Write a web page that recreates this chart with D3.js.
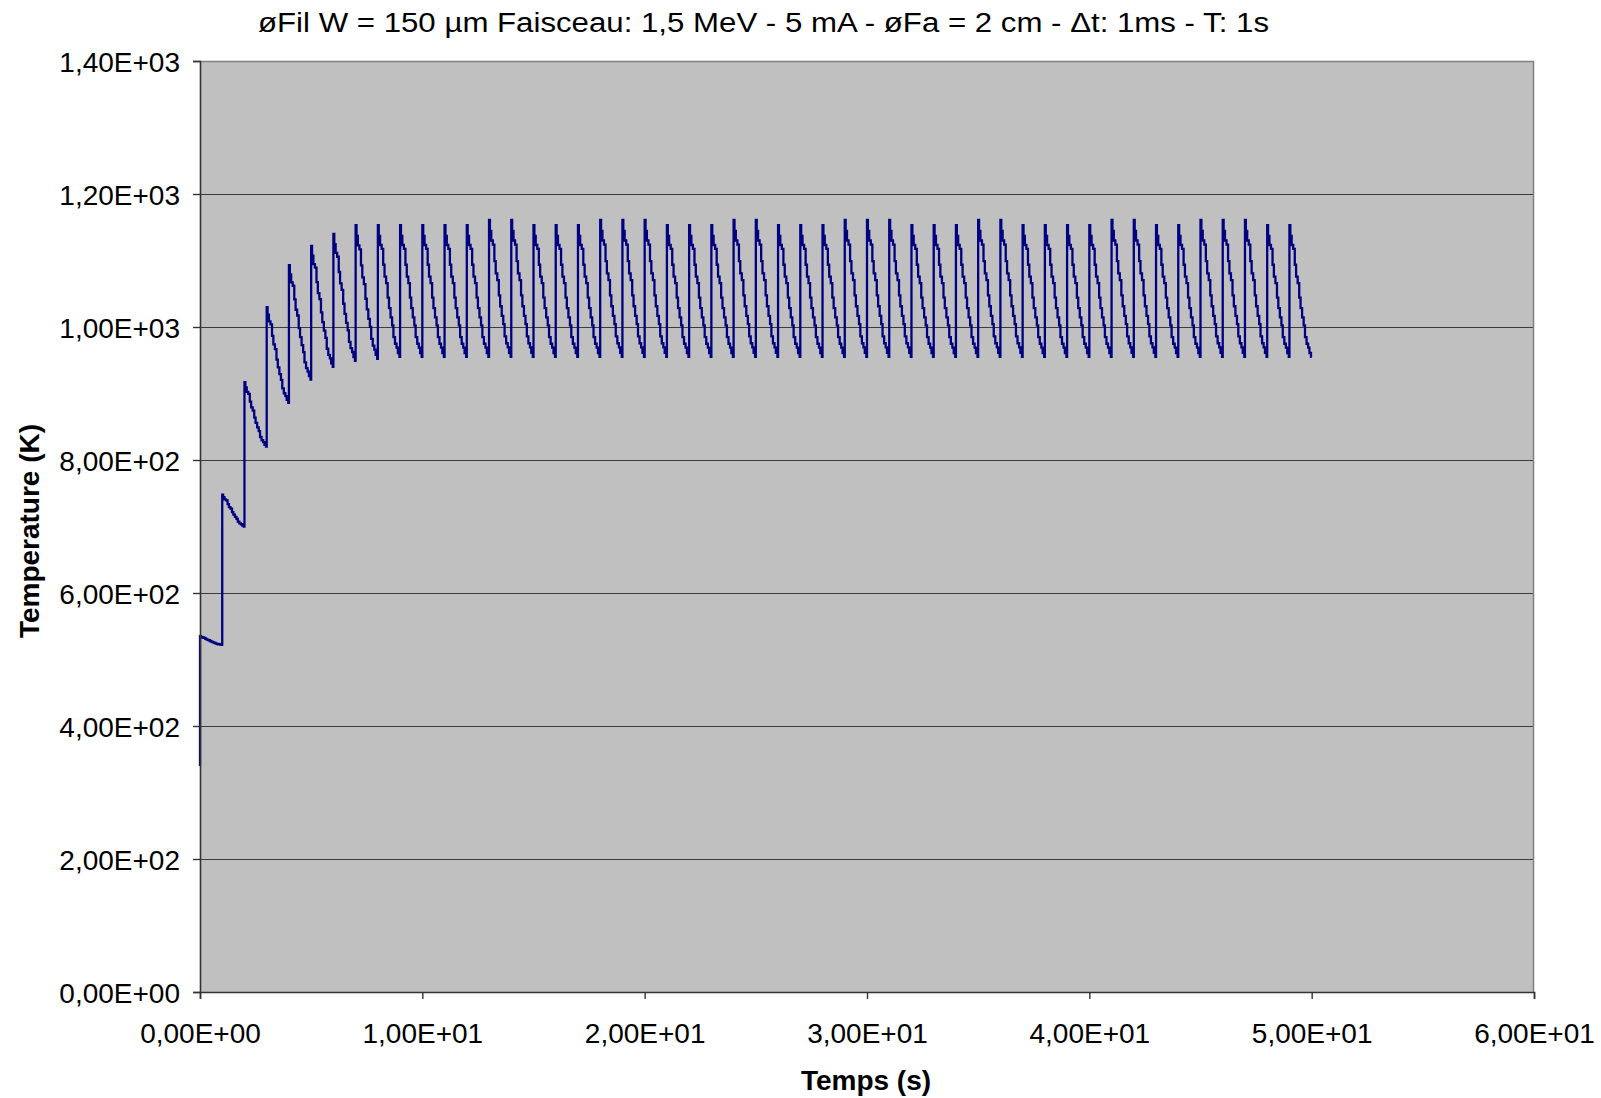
<!DOCTYPE html>
<html>
<head>
<meta charset="utf-8">
<script src="https://cdn.jsdelivr.net/npm/d3@7"></script>
<style>
  html, body { margin: 0; padding: 0; background: #fff; }
  svg { display: block; }
  text { font-family: "Liberation Sans", Arial, sans-serif; fill: #000; }
</style>
</head>
<body>
<svg id="chart" width="1601" height="1098"></svg>
<script>
// ---- Data ----
const titleText = "øFil W = 150 µm Faisceau: 1,5 MeV - 5 mA - øFa = 2 cm - Δt: 1ms - T: 1s";
const xTitle = "Temps (s)";
const yTitle = "Temperature (K)";
const xTicks = [0, 10, 20, 30, 40, 50, 60];
const yTicks = [0, 200, 400, 600, 800, 1000, 1200, 1400];

// initial temperature at t = 0 (before first pulse)
const startTemp = 340;
// pulse times (s), one pulse per second
const pulseTimes = d3.range(0, 50);
// peak temperature right after each pulse (K)
const peaks = [535, 748, 917, 1030, 1093, 1122, 1140, 1153, 1153, 1153,
               1153, 1153, 1153, 1161, 1161, 1153, 1153, 1153, 1161, 1161,
               1161, 1153, 1153, 1153, 1161, 1161, 1153, 1153, 1153, 1161,
               1161, 1161, 1153, 1153, 1153, 1161, 1161, 1153, 1153, 1153,
               1153, 1161, 1161, 1153, 1153, 1161, 1161, 1161, 1153, 1153];
// temperature at the end of each cycle, just before the next pulse (K)
const troughs = [522, 700, 820, 886, 921, 940, 949, 952, 955, 955,
                 955, 955, 955, 955, 955, 955, 955, 955, 955, 955,
                 955, 955, 955, 955, 955, 955, 955, 955, 955, 955,
                 955, 955, 955, 955, 955, 955, 955, 955, 955, 955,
                 955, 955, 955, 955, 955, 955, 955, 955, 955, 955];
// stepped cooling profile inside one cycle, read from a magnified cycle:
// time offset within the cycle (s) and fraction of the peak-to-trough drop
const stepOffsets   = [0, 0.04, 0.10, 0.17, 0.24, 0.30, 0.37, 0.44, 0.50, 0.57, 0.64, 0.70, 0.77, 0.84, 0.90, 0.97];
const stepFractions = [0, 0.08, 0.15, 0.18, 0.30, 0.39, 0.44, 0.55, 0.63, 0.70, 0.76, 0.85, 0.90, 0.93, 0.97, 1.00];
const endTime = 50;

// ---- Layout ----
const svg = d3.select("#chart");
const mLeft = 200, mRight = 1534, mTop = 61, mBottom = 992;
const x = d3.scaleLinear().domain([0, 60]).range([mLeft, mRight]);
const y = d3.scaleLinear().domain([0, 1400]).range([mBottom, mTop]);

const fmt = v => {
  const [m, e] = v.toExponential(2).split("e");
  const sign = e[0] === "-" ? "-" : "+";
  const digits = e.replace(/[+-]/, "").padStart(2, "0");
  return m.replace(".", ",") + "E" + sign + digits;
};

// plot background
svg.append("rect")
  .attr("x", mLeft).attr("y", mTop)
  .attr("width", mRight - mLeft).attr("height", mBottom - mTop)
  .attr("fill", "#C0C0C0");

// gridlines
svg.append("g")
  .selectAll("line")
  .data(yTicks.filter(d => d > 0 && d < 1400))
  .join("line")
  .attr("x1", mLeft).attr("x2", mRight)
  .attr("y1", d => Math.round(y(d)) + 0.5).attr("y2", d => Math.round(y(d)) + 0.5)
  .attr("stroke", "#3c3c3c").attr("stroke-width", 1.2);

// plot border (top / right)
svg.append("path")
  .attr("d", `M${mLeft},${mTop + 0.5}H${mRight - 0.5}V${mBottom}`)
  .attr("fill", "none").attr("stroke", "#808080").attr("stroke-width", 1.5);

// data line
const pts = [[0, startTemp]];
pulseTimes.forEach((t0, i) => {
  const p = peaks[i], q = troughs[i];
  stepOffsets.forEach((o, k) => {
    pts.push([t0 + o, p - stepFractions[k] * (p - q)]);
  });
});
pts.push([endTime, troughs[troughs.length - 1]]);

svg.append("path")
  .datum(pts)
  .attr("fill", "none")
  .attr("stroke", "#000080")
  .attr("stroke-width", 2.3)
  .attr("stroke-linejoin", "miter")
  .attr("d", d3.line().x(d => x(d[0])).y(d => y(d[1])).curve(d3.curveStepAfter));

// axes
const yAxis = d3.axisLeft(y).tickValues(yTicks).tickFormat(fmt).tickSize(7).tickPadding(13);
const xAxis = d3.axisBottom(x).tickValues(xTicks).tickFormat(fmt).tickSize(7).tickPadding(24);

const gy = svg.append("g").attr("transform", `translate(${mLeft},0)`).call(yAxis);
const gx = svg.append("g").attr("transform", `translate(0,${mBottom})`).call(xAxis);
[gx, gy].forEach(g => {
  g.select(".domain").attr("stroke", "#333").attr("stroke-width", 1.6);
  g.selectAll(".tick line").attr("stroke", "#333").attr("stroke-width", 1.4);
  g.selectAll(".tick text")
    .attr("font-family", "'Liberation Sans', Arial, sans-serif")
    .attr("font-size", 28).attr("fill", "#000");
});
gy.selectAll(".tick text").attr("dy", "0.36em");
gx.selectAll(".tick text").attr("dy", "0.71em");

// title
svg.append("text")
  .attr("x", 763.5).attr("y", 32)
  .attr("text-anchor", "middle")
  .attr("font-size", 27)
  .attr("textLength", 1011).attr("lengthAdjust", "spacingAndGlyphs")
  .text(titleText);

// axis titles
svg.append("text")
  .attr("x", 866).attr("y", 1090)
  .attr("text-anchor", "middle")
  .attr("font-size", 28).attr("font-weight", "bold")
  .text(xTitle);

svg.append("text")
  .attr("transform", "translate(39,531) rotate(-90)")
  .attr("text-anchor", "middle")
  .attr("font-size", 28).attr("font-weight", "bold")
  .text(yTitle);
</script>
</body>
</html>
